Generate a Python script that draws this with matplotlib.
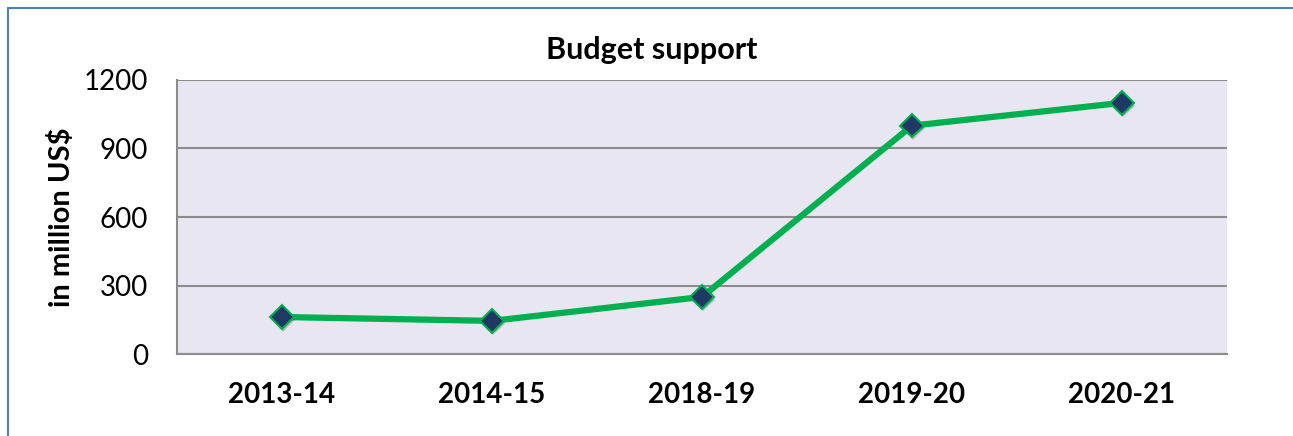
import matplotlib.pyplot as plt
import matplotlib.patheffects as pe
from matplotlib.patches import Rectangle

years = ['2013-14', '2014-15', '2018-19', '2019-20', '2020-21']
support = [162, 145, 250, 1000, 1100]
yticks = [0, 300, 600, 900, 1200]

plt.rcParams['font.family'] = ['Lato', 'DejaVu Sans']

fig = plt.figure(figsize=(12.93, 4.36), dpi=100)
ax = fig.add_axes([177 / 1293, 1 - 354 / 436, 1050 / 1293, 274 / 436])
ax.set_facecolor('#e8e6f1')

# outer chart frame, runs off the right and bottom edges
fig.patches.append(Rectangle((8 / 1293, -0.1), 1.2, 1 - 8 / 436 + 0.1,
                             transform=fig.transFigure, fill=False,
                             edgecolor='#4f81bd', linewidth=1.5))

x = range(len(years))
ax.plot(x, support, color='#00b050', linewidth=4.5, zorder=3)
ax.plot(x, support, linestyle='none', marker='D', markersize=12,
        markerfacecolor='#1f3864', markeredgecolor='#00b050',
        markeredgewidth=1.5, zorder=4,
        path_effects=[pe.SimplePatchShadow(offset=(1, -2), alpha=0.2), pe.Normal()])

ax.set_xlim(-0.5, len(years) - 0.5)
ax.set_ylim(0, 1200)
ax.set_yticks(yticks)
ax.set_xticks(list(x))
ax.set_xticklabels(years, fontweight='bold', fontsize=20)
ax.tick_params(axis='y', labelsize=20, length=0, pad=21)
ax.tick_params(axis='x', length=0, pad=20)
ax.yaxis.grid(True, color='#8c8c8c', linewidth=1.5)
ax.set_axisbelow(True)

for side in ['top', 'right']:
    ax.spines[side].set_visible(False)
for side in ['left', 'bottom']:
    ax.spines[side].set_color('#8c8c8c')
    ax.spines[side].set_linewidth(1.5)

ax.set_ylabel('in million US$', fontweight='bold', fontsize=21, labelpad=6)
fig.text(652 / 1293, 1 - 50 / 436, 'Budget support', fontweight='bold',
         fontsize=22, ha='center', va='center')

fig.savefig('out.png', dpi=100)
